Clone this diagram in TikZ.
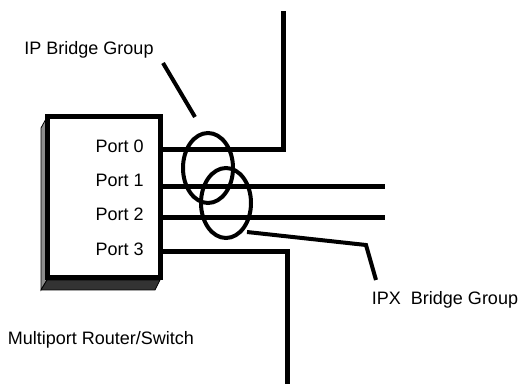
\documentclass[tikz,border=0pt]{standalone}
\usepackage{fontspec}
\setmainfont{Liberation Sans}
\usetikzlibrary{positioning,shapes.geometric}

\begin{document}
\begin{tikzpicture}[x=0.75pt, y=-0.75pt,
    wire/.style={line width=3.75pt},
    ring/.style={draw, ellipse, line width=3pt, inner sep=0pt, minimum width=37.5pt, minimum height=52.5pt},
    lead/.style={line width=3pt},
    lbl/.style={font=\fontsize{13.5}{16}\selectfont, inner sep=0pt}
]
\useasboundingbox (0,0) rectangle (521,384);

% 3D sides of the router box
\filldraw[fill=black!45, line width=0.6pt] (41,128) -- (47,117) -- (47,280) -- (41,290) -- cycle;
\filldraw[fill=black!80, line width=0.6pt] (41,290) -- (47,280) -- (160,280) -- (155,290) -- cycle;
\node[draw, fill=white, line width=3.75pt, minimum width=84.75pt, minimum height=120.75pt] (router) at (103.5,197.5) {};

\node[lbl, anchor=east] (port0) at (144,146) {Port 0};
\node[lbl, anchor=east] (port1) at (144,180) {Port 1};
\node[lbl, anchor=east] (port2) at (144,214) {Port 2};
\node[lbl, anchor=east] (port3) at (144,249) {Port 3};
\node[lbl] (caption) at (101,340) {Multiport Router/Switch};

% far ends of the segments
\coordinate (seg0) at (283,11);
\coordinate (seg1) at (385,187);
\coordinate (seg2) at (385,218);
\coordinate (seg3) at (287,384);

\draw[wire] (router.east |- 0,150) -| (seg0);
\draw[wire] (router.east |- seg1) -- (seg1);
\draw[wire] (router.east |- seg2) -- (seg2);
\draw[wire] (router.east |- 0,252) -| (seg3);

% bridge groups
\node[ring] (ipring) at (208,168) {};
\node[ring] (ipxring) at (226,203) {};

\node[lbl] (ipgroup) at (89,50) {IP Bridge Group};
\node[lbl] (ipxgroup) at (445,300) {IPX\ \ Bridge Group};

\coordinate (iptail) at (163,63);
\coordinate (iptip) at (195,117);
\coordinate (ipxtip) at (247,232);
\coordinate (ipxbend) at (366,245);
\coordinate (ipxtail) at (376,280);
\draw[lead] (iptail) -- (iptip);
\draw[lead] (ipxtip) -- (ipxbend) -- (ipxtail);
\end{tikzpicture}
\end{document}
